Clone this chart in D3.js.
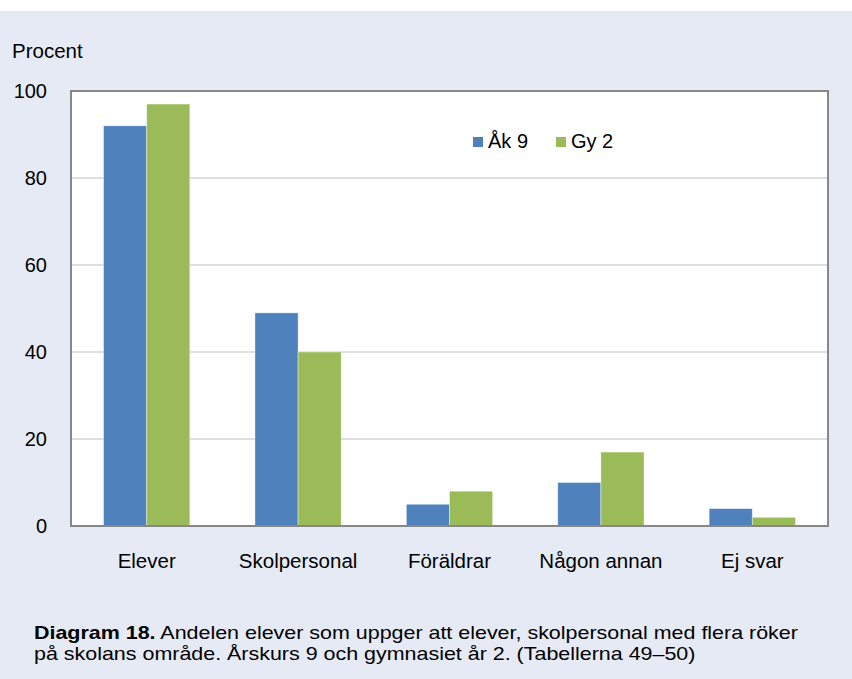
<!DOCTYPE html>
<html>
<head>
<meta charset="utf-8">
<script src="https://cdn.jsdelivr.net/npm/d3@7"></script>
<style>
  body { margin: 0; background: #fff; }
  text { font-family: "Liberation Sans", Arial, sans-serif; fill: #000; }
</style>
</head>
<body>
<div id="chart"></div>
<script>
// Data
const categories = ["Elever", "Skolpersonal", "Föräldrar", "Någon annan", "Ej svar"];
const seriesNames = ["Åk 9", "Gy 2"];
const ak9 = [92, 49, 5, 10, 4];
const gy2 = [97, 40, 8, 17, 2];
const yTicks = [0, 20, 40, 60, 80, 100];
const colors = ["#4F81BD", "#9BBB59"];

const width = 852, height = 679;
const plot = { left: 71, top: 91, right: 828, bottom: 526 };

const svg = d3.select("#chart")
    .append("svg")
    .attr("width", width)
    .attr("height", height);

// background panel
svg.append("rect")
    .attr("x", 0).attr("y", 11)
    .attr("width", width).attr("height", height - 11)
    .attr("fill", "#E6EAF5");

svg.append("rect")
    .attr("x", plot.left).attr("y", plot.top)
    .attr("width", plot.right - plot.left).attr("height", plot.bottom - plot.top)
    .attr("fill", "#fff");

const x0 = d3.scaleBand()
    .domain(categories)
    .range([plot.left, plot.right])
    .paddingInner(0.43)
    .paddingOuter(0.215);

const x1 = d3.scaleBand()
    .domain(seriesNames)
    .range([0, x0.bandwidth()]);

const y = d3.scaleLinear()
    .domain([0, 100])
    .range([plot.bottom, plot.top]);

// gridlines
svg.selectAll("line.grid")
    .data(yTicks.filter(t => t > 0 && t < 100))
    .enter()
    .append("line")
    .attr("x1", plot.left).attr("x2", plot.right)
    .attr("y1", d => y(d)).attr("y2", d => y(d))
    .attr("stroke", "#D4D4D4")
    .attr("stroke-width", 1.5);

// bars
const seriesData = [ak9, gy2];
const groups = svg.selectAll("g.series")
    .data(seriesNames)
    .enter()
    .append("g")
    .attr("fill", (d, i) => colors[i]);

groups.selectAll("rect")
    .data((s, i) => categories.map((c, j) => ({ cat: c, series: s, value: seriesData[i][j] })))
    .enter()
    .append("rect")
    .attr("x", d => x0(d.cat) + x1(d.series))
    .attr("y", d => y(d.value))
    .attr("width", x1.bandwidth())
    .attr("height", d => plot.bottom - y(d.value))
    .attr("stroke", "rgba(255,255,255,0.5)")
    .attr("stroke-width", 0.8);

// plot frame
svg.append("rect")
    .attr("x", plot.left).attr("y", plot.top)
    .attr("width", plot.right - plot.left).attr("height", plot.bottom - plot.top)
    .attr("fill", "none")
    .attr("stroke", "#878787")
    .attr("stroke-width", 2);

// y tick labels
svg.selectAll("text.ytick")
    .data(yTicks)
    .enter()
    .append("text")
    .attr("x", 47)
    .attr("y", d => y(d) + 7)
    .attr("text-anchor", "end")
    .attr("font-size", 20)
    .text(d => d);

svg.append("text")
    .attr("x", 12).attr("y", 57.5)
    .attr("font-size", 20.5)
    .text("Procent");

// x labels
svg.selectAll("text.xlab")
    .data(categories)
    .enter()
    .append("text")
    .attr("x", d => x0(d) + x0.bandwidth() / 2)
    .attr("y", 568)
    .attr("text-anchor", "middle")
    .attr("font-size", 20.5)
    .text(d => d);

// legend
const legendX = [473, 556];
const legend = svg.selectAll("g.legend")
    .data(seriesNames)
    .enter()
    .append("g")
    .attr("transform", (d, i) => `translate(${legendX[i]}, 137)`);

legend.append("rect")
    .attr("width", 10).attr("height", 10)
    .attr("fill", (d, i) => colors[i]);

legend.append("text")
    .attr("x", 15).attr("y", 11)
    .attr("font-size", 20)
    .text(d => d);

// caption (reference font is wider than Arial, so stretch horizontally)
const cap = svg.append("g")
    .attr("transform", "translate(34,0) scale(1.16,1)");
const caption = cap.append("text")
    .attr("x", 0).attr("y", 639)
    .attr("font-size", 18.5);
caption.append("tspan").attr("font-weight", "bold").text("Diagram 18.");
caption.append("tspan").text(" Andelen elever som uppger att elever, skolpersonal med flera röker");
cap.append("text")
    .attr("x", 0).attr("y", 660)
    .attr("font-size", 18.5)
    .text("på skolans område. Årskurs 9 och gymnasiet år 2. (Tabellerna 49–50)");
</script>
</body>
</html>
